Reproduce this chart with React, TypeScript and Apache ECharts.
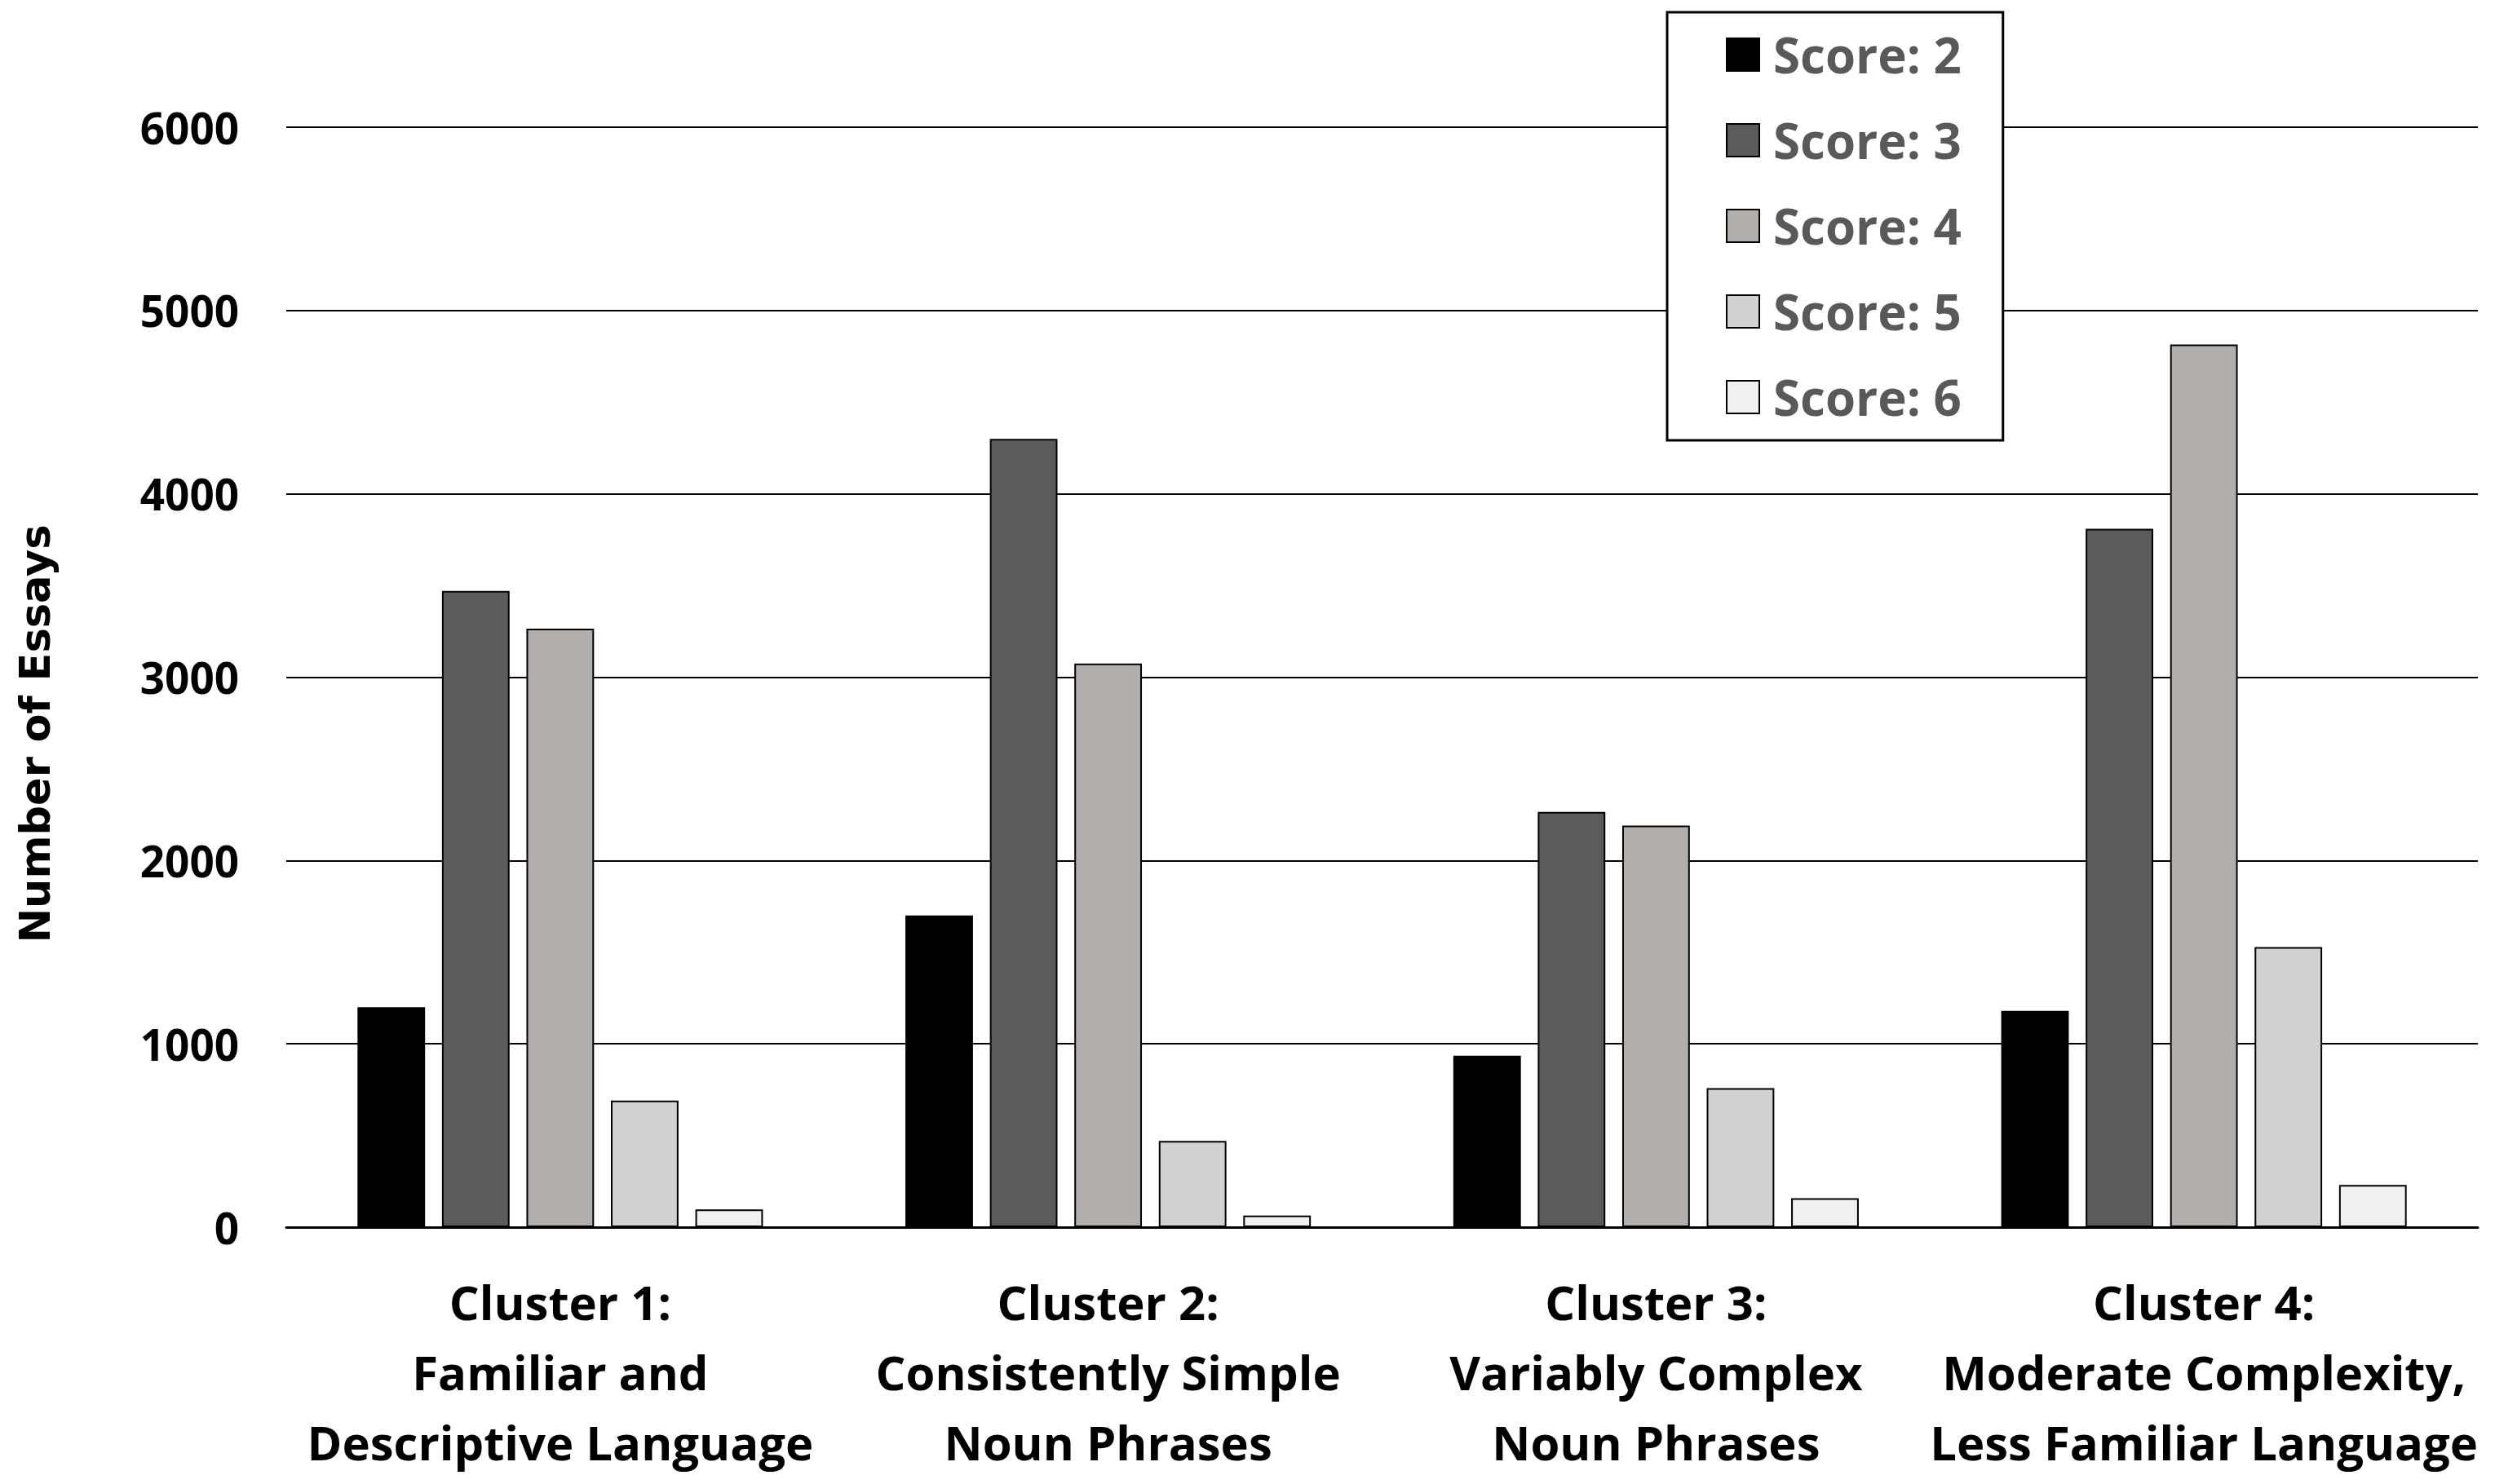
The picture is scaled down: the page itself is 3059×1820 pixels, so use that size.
import React, { useEffect, useRef } from "react";
import * as echarts from "echarts";

const categories = [
  "Cluster 1:\nFamiliar and\nDescriptive Language",
  "Cluster 2:\nConsistently Simple\nNoun Phrases",
  "Cluster 3:\nVariably Complex\nNoun Phrases",
  "Cluster 4:\nModerate Complexity,\nLess Familiar Language",
];
const seriesNames = ["Score: 2", "Score: 3", "Score: 4", "Score: 5", "Score: 6"];
const score2 = [1200, 1700, 935, 1180];
const score3 = [3470, 4300, 2265, 3810];
const score4 = [3265, 3075, 2190, 4815];
const score5 = [690, 470, 758, 1528];
const score6 = [97, 63, 158, 230];
const seriesValues = [score2, score3, score4, score5, score6];
const seriesColors = ["#000000", "#5b5b5b", "#b1aeac", "#d1d1cf", "#f0f0f0"];
const yTicks = { min: 0, max: 6000, interval: 1000 };
const yTitle = "Number of Essays";

export default function App() {
  const ref = useRef<HTMLDivElement>(null);
  useEffect(() => {
    if (!ref.current) return;
    const chart = echarts.init(ref.current, null, { renderer: "svg" });
    const labelFont = "'Open Sans', sans-serif";
    chart.setOption({
      animation: false,
      backgroundColor: "#ffffff",
      grid: { left: 351, right: 21, top: 156, bottom: 315, containLabel: false },
      legend: {
        orient: "vertical",
        left: 2044,
        top: 15,
        padding: [22, 51, 23, 72],
        itemWidth: 40,
        itemHeight: 40,
        itemGap: 45,
        icon: "rect",
        borderColor: "#000000",
        borderWidth: 3,
        backgroundColor: "#ffffff",
        data: seriesNames,
        textStyle: {
          fontFamily: labelFont,
          fontWeight: "bold",
          fontSize: 60,
          color: "#595959",
          padding: [0, 0, 0, 12],
        },
      },
      xAxis: {
        type: "category",
        data: categories,
        axisTick: { show: false },
        axisLine: { show: true, lineStyle: { color: "#000000", width: 3 } },
        axisLabel: {
          interval: 0,
          margin: 48,
          fontFamily: labelFont,
          fontWeight: "bold",
          fontSize: 58,
          lineHeight: 86,
          color: "#000000",
        },
      },
      yAxis: {
        type: "value",
        min: yTicks.min,
        max: yTicks.max,
        interval: yTicks.interval,
        axisLine: { show: false },
        axisTick: { show: false },
        splitLine: { show: true, lineStyle: { color: "#000000", width: 2 } },
        axisLabel: {
          margin: 58,
          fontFamily: labelFont,
          fontWeight: "bold",
          fontSize: 53,
          color: "#000000",
          formatter: (v: number) => String(v),
        },
      },
      graphic: [
        {
          type: "text",
          x: 43,
          y: 900,
          rotation: Math.PI / 2,
          style: {
            text: yTitle,
            fontFamily: "'DejaVu Sans', Verdana, sans-serif",
            fontWeight: "bold",
            fontSize: 51,
            fill: "#000000",
            align: "center",
            verticalAlign: "middle",
          },
        },
      ],
      series: seriesNames.map((name, i) => ({
        name,
        type: "bar",
        data: seriesValues[i],
        barGap: "25%",
        barCategoryGap: "26%",
        itemStyle: { color: seriesColors[i], borderColor: "#000000", borderWidth: 2 },
      })),
    });
    return () => chart.dispose();
  }, []);
  return (
    <div
      ref={ref}
      style={{ position: "fixed", left: 0, top: 0, width: 3059, height: 1820 }}
    />
  );
}
